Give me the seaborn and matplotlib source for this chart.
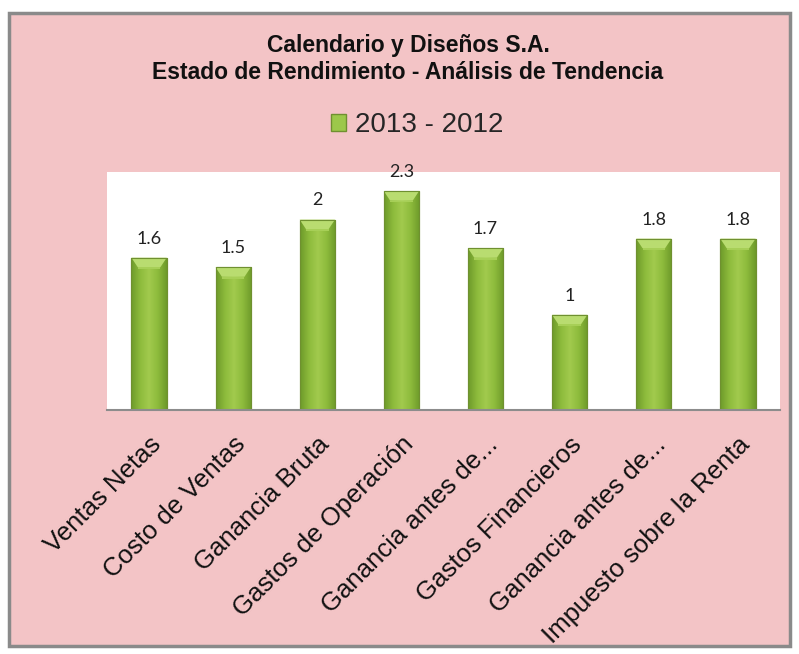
import matplotlib
matplotlib.use("Agg")
import matplotlib.pyplot as plt
import seaborn as sns
import pandas as pd
import numpy as np
from matplotlib.patches import Rectangle, Patch
from matplotlib.colors import LinearSegmentedColormap

categories = ["Ventas Netas", "Costo de Ventas", "Ganancia Bruta", "Gastos de Operación",
              "Ganancia antes de...", "Gastos Financieros", "Ganancia antes de...",
              "Impuesto sobre la Renta"]
values = [1.6, 1.5, 2.0, 2.3, 1.7, 1.0, 1.8, 1.8]
value_labels = ["1.6", "1.5", "2", "2.3", "1.7", "1", "1.8", "1.8"]
series_name = "2013 - 2012"
title_lines = ["Calendario y Diseños S.A.", "Estado de Rendimiento - Análisis de Tendencia"]

sns.set_theme(style="white")
plt.rcParams['font.family'] = ['Liberation Sans', 'DejaVu Sans']

PINK = "#F3C4C6"
GREEN = "#96C040"

fig = plt.figure(figsize=(7.99, 6.54), dpi=100)
fig.patch.set_facecolor("white")
fig.patches.append(Rectangle((9/799, 1-646/654), 781/799, 633/654, transform=fig.transFigure,
                             facecolor=PINK, edgecolor="#8A8A8A", linewidth=2.5, zorder=-10))

ax = fig.add_axes([107/799, 1-410/654, 673/799, 238/654])
ax.set_zorder(5)
ax.set_facecolor("white")

df = pd.DataFrame({"cat": [f"{i}" for i in range(len(categories))], "val": values})
sns.barplot(data=df, x="cat", y="val", ax=ax, color=GREEN, width=0.42,
            edgecolor="#6F9030", linewidth=0.8, saturation=1)

ax.set_ylim(0, 2.5)
ax.set_xlim(-0.5, len(categories) - 0.5)

# gradient shading of bars (horizontal: darker edges, lighter center; light top bevel)
cmap = LinearSegmentedColormap.from_list("g", ["#6E9A2A", "#8DBB3C", "#A2CA4E", "#8DBB3C", "#6E9A2A"])
xs = np.linspace(0, 1, 60)
for p in list(ax.patches):
    x0, y0 = p.get_x(), p.get_y()
    w, h = p.get_width(), p.get_height()
    grad = np.tile(xs, (2, 1))
    im = ax.imshow(grad, extent=(x0, x0 + w, y0, y0 + h), aspect="auto", cmap=cmap,
                   origin="lower", zorder=p.get_zorder() + 0.1, interpolation="bilinear")
    im.set_clip_path(p)
    bev = 0.10
    ax.fill([x0, x0 + w, x0 + w * 0.82, x0 + w * 0.18], [y0 + h, y0 + h, y0 + h - bev, y0 + h - bev],
            color="#B9DC70", zorder=p.get_zorder() + 0.2, linewidth=0)
    ax.fill([x0 + w * 0.18, x0 + w * 0.82, x0 + w * 0.82, x0 + w * 0.18],
            [y0 + h - bev, y0 + h - bev, y0 + h - bev - 0.02, y0 + h - bev - 0.02],
            color="#A7CF57", zorder=p.get_zorder() + 0.2, linewidth=0)
    ax.add_patch(Rectangle((x0, y0), w, h, fill=False, edgecolor="#6F9030", linewidth=0.8,
                           zorder=p.get_zorder() + 0.3))

ax.set_ylim(0, 2.5)
ax.set_xlim(-0.5, len(categories) - 0.5)
ax.set_yticks([])
ax.set_xlabel("")
ax.set_ylabel("")
ax.set_xticks(range(len(categories)))
ax.set_xticklabels(categories, rotation=45, ha="right", rotation_mode="anchor",
                   fontsize=18.5, color="#111111")
ax.tick_params(axis="x", length=0, pad=16)
for s in ["top", "right", "left"]:
    ax.spines[s].set_visible(False)
ax.spines["bottom"].set_color("#8C8C8C")
ax.spines["bottom"].set_linewidth(1.5)
ax.spines["bottom"].set_zorder(10)

for i, (v, lab) in enumerate(zip(values, value_labels)):
    ax.annotate(lab, (i, v), xytext=(0, 8), textcoords="offset points", ha="center",
                va="bottom", fontsize=13, family=["Lato", "DejaVu Sans"], color="#222222",
                annotation_clip=False)

fig.text(408/799, 1-59/654, "\n".join(title_lines), ha="center", va="center", fontsize=16.5,
         fontweight="bold", family=["Liberation Sans Narrow", "Liberation Sans", "DejaVu Sans"],
         linespacing=1.25, color="#111111")

fig.legend(handles=[Patch(facecolor="#9CC84A", edgecolor="#6F9030", label=series_name)],
           loc="center", bbox_to_anchor=(417/799, 1-125/654), frameon=False,
           handlelength=0.55, handleheight=0.55, handletextpad=0.3,
           prop={"family": ["Liberation Sans Narrow", "Liberation Sans"], "size": 20})

fig.savefig("out.png", dpi=100, facecolor=fig.get_facecolor())
